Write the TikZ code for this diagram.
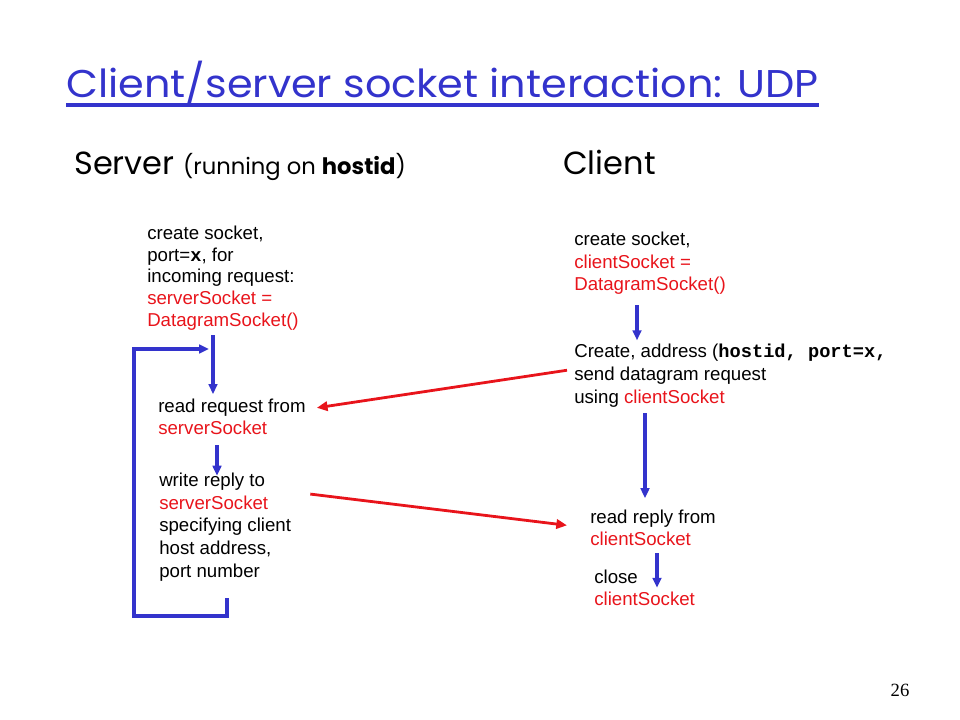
\documentclass[tikz,border=0pt]{standalone}
\usepackage{fontspec}
\setmainfont{Liberation Sans}
\setmonofont{Liberation Mono}
\newfontfamily\headfont{Poppins}
\newfontfamily\numfont{Liberation Serif}
\usetikzlibrary{arrows.meta, positioning, calc}
\definecolor{slideblue}{HTML}{3333CC}
\definecolor{codered}{HTML}{E8141B}
\newcommand{\sock}[1]{\textcolor{codered}{#1}}
\newcommand{\code}[1]{\texttt{\bfseries #1}}

\begin{document}
\begin{tikzpicture}[x=0.75pt, y=-0.75pt,
  steptext/.style={anchor=base west, inner sep=0pt, align=left, font=\fontsize{14}{16.6}\selectfont},
  headtext/.style={anchor=base west, inner sep=0pt, font=\headfont\fontsize{24}{28}\selectfont},
  flow/.style={draw=slideblue, line width=2.3pt, -{Triangle[length=7.5pt,width=6.5pt]}},
  msg/.style={draw=codered, line width=2.1pt, -{Triangle[length=8pt,width=7pt]}}]
\useasboundingbox (0,0) rectangle (960,720);

% Title
\node[anchor=base west, inner sep=0pt, text=slideblue, font=\headfont\fontsize{29}{34}\selectfont] (title) at (66,98) {\scalebox{1.07}[1]{Client/server socket interaction: UDP}};
\draw[slideblue, line width=3pt] ($(title.base west)+(0,7)$) -- ($(title.base east)+(0,7)$);

% Column heads
\node[headtext] (srvhead) at (74,175) {Server {\fontsize{17}{20}\selectfont(running on {\bfseries hostid})}};
\node[headtext] (clihead) at (563,175) {Client};

% Server side (nodes sit on the baseline of their last line)
\node[steptext, font=\fontsize{14}{16.2}\selectfont] (srvcreate) at (147,326) {create socket,\\ port=\code{x}, for\\ incoming request:\\ \sock{serverSocket =}\\ \sock{DatagramSocket()}};
\node[steptext, font=\fontsize{14}{15.8}\selectfont] (srvread) at (158,434) {read request from\\ \sock{serverSocket}};
\node[steptext, font=\fontsize{14}{16.9}\selectfont] (srvwrite) at (159,577) {write reply to\\ \sock{serverSocket}\\ specifying client\\ host address,\\ port number};

% Client side
\node[steptext, font=\fontsize{14}{16.9}\selectfont] (clicreate) at (574,291) {create socket,\\ \sock{clientSocket =}\\ \sock{DatagramSocket()}};
\node[steptext, font=\fontsize{14}{17.2}\selectfont] (clisend) at (574,403) {Create, address (\code{hostid, port=x,}\\ send datagram request\\ using \sock{clientSocket}};
\node[steptext, font=\fontsize{14}{16.5}\selectfont] (cliread) at (590,545) {read reply from\\ \sock{clientSocket}};
\node[steptext, font=\fontsize{14}{15.8}\selectfont] (cliclose) at (594,605) {close\\ \sock{clientSocket}};

% Flow within each side
\coordinate (srvx1) at (213,0);
\coordinate (srvx2) at (217,0);
\coordinate (clix1) at (637,0);
\coordinate (clix2) at (645,0);
\coordinate (clix3) at (657,0);
\draw[flow, shorten <=3.75pt, shorten >=3.75pt] (srvcreate.south -| srvx1) -- (srvread.north -| srvx1);
\draw[flow, shorten <=8pt, shorten >=-2pt] (srvread.south -| srvx2) -- (srvwrite.north -| srvx2);
\draw[flow, shorten <=7.5pt, shorten >=2.25pt] (clicreate.south -| clix1) -- (clisend.north -| clix1);
\draw[flow, shorten <=4.5pt, shorten >=8.25pt] (clisend.south -| clix2) -- (cliread.north -| clix2);
\draw[flow, shorten <=6pt] (cliread.south -| clix3) -- (cliclose.west -| clix3);

% Server loop
\coordinate (loopstart) at (227,598);
\coordinate (loopbot) at (134,616);
\coordinate (looptop) at (134,349);
\draw[flow] (loopstart) |- (loopbot) -- (looptop) -- ($(srvx1 |- looptop)+(-4,0)$);

% Datagrams
\draw[msg] ($(clisend.west)+(-7,-5)$) -- ($(srvread.east)+(11,-9)$);
\draw[msg] ($(srvwrite.north east)+(19,21)$) -- ($(cliread.west)+(-23,-2)$);

\node[font=\numfont\fontsize{14}{16}\selectfont] (pagenum) at (900,690) {26};
\end{tikzpicture}
\end{document}
